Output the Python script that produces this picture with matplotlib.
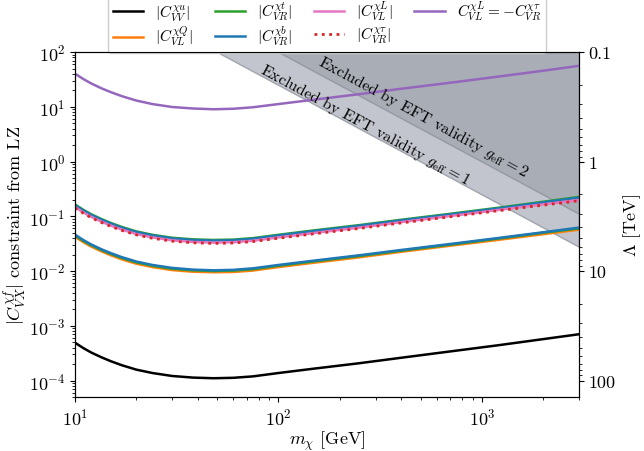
import numpy as np
import matplotlib
matplotlib.use("Agg")
import matplotlib.pyplot as plt
from matplotlib.ticker import FuncFormatter

plt.rcParams['font.family'] = 'serif'
plt.rcParams['font.serif'] = ['cmr10', 'DejaVu Serif']
plt.rcParams['mathtext.fontset'] = 'cm'
plt.rcParams['axes.formatter.use_mathtext'] = True

# dark matter mass [GeV]
m_chi = [10, 11, 12, 13.5, 15, 17, 20, 24, 30, 38, 48, 60, 75, 100, 150,
         250, 400, 700, 1200, 2000, 3000]

# |C| limits
c_u_vv = [4.9e-4, 3.9e-4, 3.25e-4, 2.65e-4, 2.25e-4, 1.9e-4, 1.58e-4, 1.37e-4,
          1.21e-4, 1.13e-4, 1.10e-4, 1.12e-4, 1.19e-4, 1.37e-4, 1.65e-4,
          2.07e-4, 2.6e-4, 3.4e-4, 4.4e-4, 5.7e-4, 7.0e-4]
c_q_vl = [0.0421, 0.0335, 0.0280, 0.0228, 0.0194, 0.0163, 0.0136, 0.0118,
          0.0104, 0.0097, 0.0095, 0.0096, 0.0102, 0.0118, 0.0142, 0.0178,
          0.0224, 0.0290, 0.0370, 0.0470, 0.0570]
c_t_vr_low = [0.0446, 0.0355, 0.0296, 0.0241, 0.0205, 0.0173, 0.0144, 0.0125,
              0.0110, 0.0103, 0.0100, 0.0102, 0.0108, 0.0125, 0.0150, 0.0188,
              0.0235, 0.0303, 0.0390, 0.0500, 0.0600]
c_b_vr = [0.0461, 0.0367, 0.0306, 0.0249, 0.0212, 0.0179, 0.0149, 0.0129,
          0.0114, 0.0106, 0.0103, 0.0105, 0.0112, 0.0129, 0.0155, 0.0194,
          0.0242, 0.0312, 0.0400, 0.0510, 0.0620]
c_t_vr = [0.164, 0.131, 0.109, 0.0888, 0.0754, 0.0637, 0.0529, 0.0459,
          0.0405, 0.0379, 0.0369, 0.0375, 0.0399, 0.0459, 0.0553, 0.0690,
          0.0862, 0.111, 0.143, 0.184, 0.226]
c_b_vr_up = [0.160, 0.127, 0.106, 0.0864, 0.0734, 0.0619, 0.0515, 0.0447,
             0.0394, 0.0368, 0.0359, 0.0365, 0.0388, 0.0447, 0.0538, 0.0672,
             0.0840, 0.108, 0.139, 0.179, 0.219]
c_l_vl = [0.147, 0.117, 0.0975, 0.0795, 0.0675, 0.0570, 0.0474, 0.0411,
          0.0363, 0.0339, 0.0330, 0.0336, 0.0357, 0.0411, 0.0495, 0.0621,
          0.0780, 0.101, 0.130, 0.165, 0.198]
c_tau_vr = [0.142, 0.113, 0.0943, 0.0769, 0.0653, 0.0551, 0.0458, 0.0397,
            0.0351, 0.0328, 0.0319, 0.0325, 0.0345, 0.0397, 0.0479, 0.0600,
            0.0754, 0.0980, 0.126, 0.160, 0.192]
c_l_vl_tau = [40.2, 32.0, 26.7, 21.7, 18.5, 15.6, 13.0, 11.2, 9.9, 9.3, 9.0,
              9.2, 9.8, 11.2, 13.5, 17.0, 21.3, 27.5, 35.5, 45.5, 56.0]

# EFT validity boundaries: Lambda > 2 m_chi / g_eff, with C = 1/Lambda^2 [TeV]
g_eff = [1, 2]

m_band = np.logspace(1, np.log10(3000), 200)

fig = plt.figure(figsize=(6.44, 4.52), dpi=100)
ax = fig.add_axes([0.1165, 0.1195, 0.7825, 0.7632])

c_max1 = (g_eff[0] / (2 * m_band / 1000.0)) ** 2
c_max2 = (g_eff[1] / (2 * m_band / 1000.0)) ** 2
ax.fill_between(m_band, c_max1, 1e3, color='#c2c5cd', edgecolor='#a0a4ad',
                lw=1, zorder=0)
ax.fill_between(m_band, c_max2, 1e3, color='#a9adb6', edgecolor='#9599a3',
                lw=1, zorder=0)

lw = 1.8
ax.plot(m_chi, c_u_vv, color='black', lw=lw, label=r'$|C_{VV}^{\chi u}|$')
ax.plot(m_chi, c_q_vl, color='tab:orange', lw=lw, label=r'$|C_{VL}^{\chi Q}|$')
ax.plot(m_chi, c_t_vr_low, color='tab:green', lw=lw)
ax.plot(m_chi, c_t_vr, color='tab:green', lw=lw, label=r'$|C_{VR}^{\chi t}|$')
ax.plot(m_chi, c_b_vr, color='tab:blue', lw=lw, label=r'$|C_{VR}^{\chi b}|$')
ax.plot(m_chi, c_b_vr_up, color='tab:blue', lw=lw)
ax.plot(m_chi, c_l_vl, color='tab:pink', lw=lw, label=r'$|C_{VL}^{\chi L}|$')
ax.plot(m_chi, c_tau_vr, color='tab:red', lw=2, ls=':',
        label=r'$|C_{VR}^{\chi \tau}|$')
ax.plot(m_chi, c_l_vl_tau, color='tab:purple', lw=lw,
        label=r'$C_{VL}^{\chi L}=-C_{VR}^{\chi \tau}$')

ax.set_xscale('log')
ax.set_yscale('log')
ax.set_xlim(10, 3000)
ax.set_ylim(5e-5, 100)
ax.set_xlabel(r'$m_\chi$ [GeV]', fontsize=13, labelpad=1)
ax.set_ylabel(r'$|C_{VX}^{\chi f}|$ constraint from LZ', fontsize=13,
              labelpad=0)
ax.tick_params(labelsize=13)

ax.text(268, 4.8, r'Excluded by EFT validity $g_{\rm eff}=1$', rotation=-28.5,
        ha='center', va='center', fontsize=11.5, rotation_mode='anchor')
ax.text(518, 6.8, r'Excluded by EFT validity $g_{\rm eff}=2$', rotation=-28.5,
        ha='center', va='center', fontsize=11.5, rotation_mode='anchor')

ax2 = ax.twinx()
ax2.set_yscale('log')
ax2.set_ylim(1 / np.sqrt(5e-5), 1 / np.sqrt(100))
ax2.yaxis.set_major_formatter(FuncFormatter(lambda v, p: '%g' % v))
ax2.set_ylabel(r'$\Lambda$ [TeV]', fontsize=13)
ax2.tick_params(labelsize=13)

ax.legend(loc='lower center', bbox_to_anchor=(0.5, 0.998), ncol=4,
          fontsize=11, borderaxespad=0, handlelength=2.0, columnspacing=1.4,
          labelspacing=0.1, borderpad=0.3, framealpha=1)

fig.savefig('out.png', dpi=100)
